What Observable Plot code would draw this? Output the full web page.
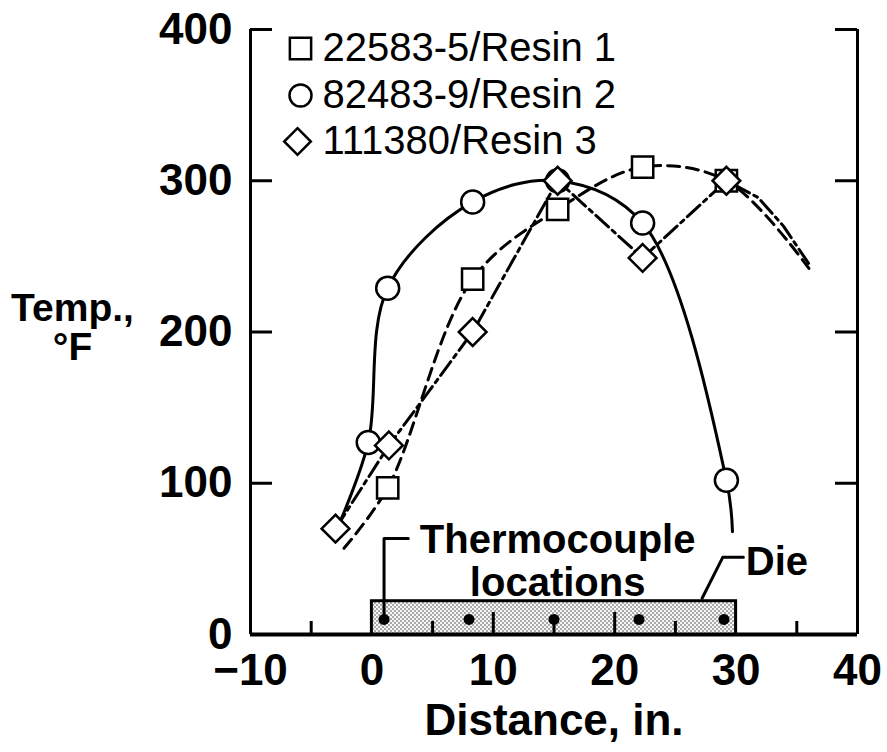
<!DOCTYPE html>
<html>
<head>
<meta charset="utf-8">
<script src="https://cdn.jsdelivr.net/npm/d3@7"></script>
<script src="https://cdn.jsdelivr.net/npm/@observablehq/plot@0.6"></script>
<style>
  html, body { margin: 0; padding: 0; background: white; }
  #chart svg { display: block; }
</style>
</head>
<body>
<div id="chart"></div>
<script>
// ---- data ----
const seriesNames = ["22583-5/Resin 1", "82483-9/Resin 2", "111380/Resin 3"];
const seriesSymbols = ["square", "circle", "diamond2"];

// measured points (markers)
const r1X = [1.3, 8.3, 15.3, 22.3, 29.2];
const r1Y = [97, 235, 281, 309, 300];
const r2X = [-0.3, 1.3, 8.3, 15.3, 22.3, 29.2];
const r2Y = [127, 229, 286, 300, 272, 102];
const r3X = [-3.0, 1.4, 8.3, 15.3, 22.3, 29.2];
const r3Y = [70, 125, 200, 300, 249, 300];

// drawn curves (including their loose ends)
const c1X = [-2.3, 1.3, 8.3, 15.3, 22.3, 29.2, 36.0];
const c1Y = [57, 97, 235, 281, 309, 300, 242];
const c2X = [-2.6, -0.3, 1.3, 8.3, 15.3, 22.3, 29.2, 29.7];
const c2Y = [75, 127, 229, 286, 300, 272, 102, 68];
const c3X = [-3.0, 1.4, 8.3, 15.3, 22.3, 29.2, 31.8, 33.9, 36.0];
const c3Y = [70, 125, 200, 300, 249, 300, 289, 270, 245];

// die and thermocouples
const die = [{start: 0, end: 30, bottom: 0, top: 22}];
const thermoX = [1, 8, 15, 22, 29];
const thermoY = [10, 10, 10, 10, 10];
const thermoLeader = [{x: 1, y: 10}, {x: 1, y: 63.5}, {x: 3, y: 63.5}];
const dieLeader = [{x: 27.2, y: 24}, {x: 28.9, y: 51}, {x: 30.6, y: 51}];
const thermoLabel = [{x: 15.3, y: 48.5, text: "Thermocouple\nlocations"}];
const dieLabel = [{x: 30.8, y: 47.5, text: "Die"}];

// axes
const xTicks = [-10, 0, 10, 20, 30, 40];
const xMajorInner = [10, 20];
const xMinor = [-5, 5, 15, 25, 35];
const yTicks = [0, 100, 200, 300, 400];
const yInnerTicks = [100, 200, 300, 400];

const zip = (xs, ys) => xs.map((x, i) => ({x, y: ys[i]}));
const pts1 = zip(r1X, r1Y), pts2 = zip(r2X, r2Y), pts3 = zip(r3X, r3Y);
const crv1 = zip(c1X, c1Y), crv2 = zip(c2X, c2Y), crv3 = zip(c3X, c3Y);
const thermo = zip(thermoX, thermoY);

const FONT = "'Liberation Sans', Arial, Helvetica, sans-serif";
const W = 887, H = 752, ML = 250, MR = 30, MT = 29, MB = 118;
const FW = W - ML - MR, FH = H - MT - MB;
const fmt = d => d < 0 ? "\u2212" + Math.abs(d) : String(d);
const mk = {fill: "white", stroke: "black", strokeWidth: 2.5};

const legendMarks = seriesNames.flatMap((name, i) => {
  const dy = [19, 66, 112][i];
  const dx = [50, 50, 47][i];
  return [
    Plot.dot([name], {frameAnchor: "top-left", dx, dy, symbol: seriesSymbols[i], r: seriesSymbols[i] === "circle" ? 11 : 12, ...mk}),
    Plot.text([name], {frameAnchor: "top-left", dx: 72, dy, text: d => d, textAnchor: "start", lineAnchor: "middle", fontSize: 40, fontFamily: FONT, fill: "black"})
  ];
});

const chart = Plot.plot({
  width: W, height: H,
  marginLeft: ML, marginRight: MR, marginTop: MT, marginBottom: MB,
  x: {domain: [-10, 40]},
  y: {domain: [0, 400]},
  style: {fontFamily: FONT, background: "white", color: "black"},
  marks: [
    Plot.axisX({ticks: xTicks, tickSize: 0, tickPadding: 19, tickFormat: fmt, fontSize: 44, fontWeight: "bold", label: null}),
    Plot.axisY({ticks: yTicks, tickSize: 0, tickPadding: 18, tickFormat: fmt, fontSize: 44, fontWeight: "bold", label: null}),
    // frame: left, right and bottom lines
    Plot.ruleX([-10, 40], {stroke: "black", strokeWidth: 3}),
    Plot.ruleY([0], {stroke: "black", strokeWidth: 4}),
    // inward ticks
    Plot.tickY(yInnerTicks, {y: d => d, insetRight: FW - 22, stroke: "black", strokeWidth: 3}),
    Plot.tickY(yInnerTicks, {y: d => d, insetLeft: FW - 22, stroke: "black", strokeWidth: 3}),
    // die
    Plot.rect(die, {x1: "start", x2: "end", y1: "bottom", y2: "top", fill: "url(#stipple)", stroke: "black", strokeWidth: 3}),
    Plot.tickX(xMajorInner, {x: d => d, insetTop: FH - 22, stroke: "black", strokeWidth: 3}),
    Plot.tickX(xMinor, {x: d => d, insetTop: FH - 13, stroke: "black", strokeWidth: 3}),
    Plot.dot(thermo, {x: "x", y: "y", r: 5.5, fill: "black"}),
    Plot.line(thermoLeader, {x: "x", y: "y", stroke: "black", strokeWidth: 3}),
    Plot.line(dieLeader, {x: "x", y: "y", stroke: "black", strokeWidth: 3}),
    Plot.text(thermoLabel, {x: "x", y: "y", text: "text", fontSize: 40, fontWeight: "bold", lineHeight: 1.07, textAnchor: "middle", fill: "black"}),
    Plot.text(dieLabel, {x: "x", y: "y", text: "text", fontSize: 40, fontWeight: "bold", textAnchor: "start", fill: "black"}),
    // curves
    Plot.line(crv2, {x: "x", y: "y", curve: "catmull-rom", stroke: "black", strokeWidth: 3}),
    Plot.line(crv1, {x: "x", y: "y", curve: "catmull-rom", stroke: "black", strokeWidth: 3, strokeDasharray: "12,7"}),
    Plot.line(crv3, {x: "x", y: "y", curve: "linear", stroke: "black", strokeWidth: 3, strokeDasharray: "17,5,4,5"}),
    // markers
    Plot.dot(pts2, {x: "x", y: "y", symbol: "circle", r: 11.5, ...mk}),
    Plot.dot(pts1, {x: "x", y: "y", symbol: "square", r: 12, ...mk}),
    Plot.dot(pts3, {x: "x", y: "y", symbol: "diamond2", r: 12.5, ...mk}),
    // axis titles
    Plot.text(["Temp.,\n\u00b0F"], {frameAnchor: "left", dx: -178, dy: -4, text: d => d, fontSize: 39, fontWeight: "bold", lineHeight: 1.0, textAnchor: "middle", lineAnchor: "middle", fill: "black"}),
    Plot.text(["Distance, in."], {frameAnchor: "bottom", dy: 86, text: d => d, fontSize: 44, fontWeight: "bold", textAnchor: "middle", lineAnchor: "middle", fill: "black"}),
    ...legendMarks
  ]
});

// stipple pattern for the die
const svg = d3.select(chart);
const defs = svg.insert("defs", ":first-child");
const pat = defs.append("pattern").attr("id", "stipple").attr("patternUnits", "userSpaceOnUse").attr("width", 4).attr("height", 4);
pat.append("rect").attr("width", 4).attr("height", 4).attr("fill", "#f6f6f6");
pat.append("circle").attr("cx", 1).attr("cy", 1).attr("r", 0.7).attr("fill", "#222");
pat.append("circle").attr("cx", 3).attr("cy", 3).attr("r", 0.7).attr("fill", "#222");

document.getElementById("chart").appendChild(chart);
</script>
</body>
</html>
